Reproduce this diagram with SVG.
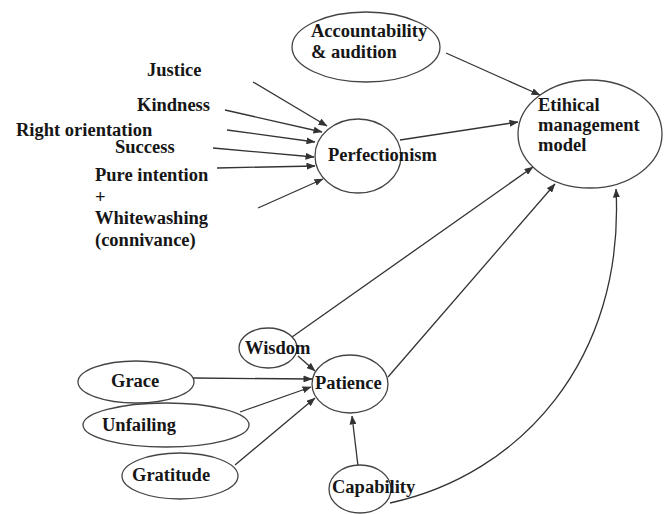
<svg xmlns="http://www.w3.org/2000/svg" width="666" height="514" viewBox="0 0 666 514">
<defs>
<style>
.n{fill:#fff;stroke:#444;stroke-width:1.3}
.t{font-family:"Liberation Serif","Times New Roman",serif;font-weight:bold;font-size:18.5px;fill:#161616}
.c{fill:none;stroke:#333;stroke-width:1.3}
</style>
<marker id="ah" markerUnits="userSpaceOnUse" markerWidth="9" markerHeight="7" refX="8.5" refY="3.5" orient="auto">
<path d="M0,0 L9,3.5 L0,7 z" fill="#333"/>
</marker>
</defs>
<rect width="666" height="514" fill="#fff"/>
<g id="connectors">
<line class="c" x1="253" y1="82" x2="327" y2="126" marker-end="url(#ah)"/>
<line class="c" x1="225" y1="110" x2="322" y2="132" marker-end="url(#ah)"/>
<line class="c" x1="227" y1="130" x2="315" y2="142" marker-end="url(#ah)"/>
<line class="c" x1="213" y1="148" x2="314" y2="157" marker-end="url(#ah)"/>
<line class="c" x1="217" y1="168" x2="315" y2="166" marker-end="url(#ah)"/>
<line class="c" x1="258" y1="208" x2="323" y2="179" marker-end="url(#ah)"/>
<line class="c" x1="446" y1="53" x2="540" y2="95" marker-end="url(#ah)"/>
<line class="c" x1="400" y1="140" x2="518" y2="122" marker-end="url(#ah)"/>
<line class="c" x1="292" y1="337" x2="533" y2="167" marker-end="url(#ah)"/>
<line class="c" x1="298" y1="356" x2="315" y2="371" marker-end="url(#ah)"/>
<line class="c" x1="388" y1="377" x2="555" y2="184" marker-end="url(#ah)"/>
<line class="c" x1="358" y1="466" x2="352" y2="416" marker-end="url(#ah)"/>
<path class="c" d="M390,503 C520,475 625,360 616,189" marker-end="url(#ah)"/>
<line class="c" x1="193" y1="378" x2="312" y2="379" marker-end="url(#ah)"/>
<line class="c" x1="240" y1="412" x2="311" y2="387" marker-end="url(#ah)"/>
<line class="c" x1="235" y1="465" x2="315" y2="398" marker-end="url(#ah)"/>
</g>
<g id="justice"><text class="t" x="147" y="76">Justice</text></g>
<g id="kindness"><text class="t" x="137" y="111">Kindness</text></g>
<g id="right-orientation"><text class="t" x="16" y="136">Right orientation</text></g>
<g id="success"><text class="t" x="115" y="153">Success</text></g>
<g id="pure-intention"><text class="t" x="95" y="181">Pure intention</text><text class="t" x="95" y="203">+</text><text class="t" x="95" y="224">Whitewashing</text><text class="t" x="95" y="246">(connivance)</text></g>
<g id="accountability"><ellipse class="n" cx="366" cy="47" rx="74" ry="35"/><text class="t" x="311" y="37">Accountability</text><text class="t" x="311" y="58">&amp; audition</text></g>
<g id="perfectionism"><ellipse class="n" cx="358" cy="156" rx="43" ry="37"/><text class="t" x="328" y="161">Perfectionism</text></g>
<g id="ethical"><ellipse class="n" cx="590" cy="134" rx="72" ry="54"/><text class="t" x="538" y="111">Etihical</text><text class="t" x="538" y="131">management</text><text class="t" x="538" y="151">model</text></g>
<g id="wisdom"><ellipse class="n" cx="268" cy="348" rx="29" ry="20"/><text class="t" x="245" y="354">Wisdom</text></g>
<g id="patience"><ellipse class="n" cx="350" cy="384" rx="38" ry="29"/><text class="t" x="315" y="389">Patience</text></g>
<g id="grace"><ellipse class="n" cx="136" cy="382" rx="58" ry="21"/><text class="t" x="111" y="387">Grace</text></g>
<g id="unfailing"><ellipse class="n" cx="166" cy="425" rx="83" ry="22"/><text class="t" x="102" y="431">Unfailing</text></g>
<g id="gratitude"><ellipse class="n" cx="180" cy="476" rx="58" ry="23"/><text class="t" x="132" y="481">Gratitude</text></g>
<g id="capability"><ellipse class="n" cx="360" cy="489" rx="31" ry="24"/><text class="t" x="332" y="493">Capability</text></g>
</svg>
